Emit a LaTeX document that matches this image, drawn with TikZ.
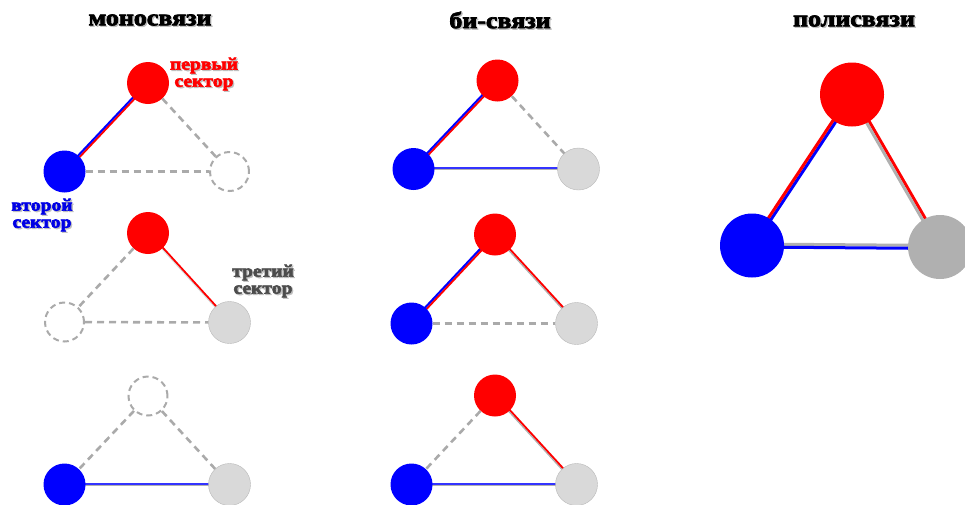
\documentclass[tikz,border=0pt]{standalone}
\usepackage{fontspec}
\setmainfont{Liberation Serif}
\newfontfamily\heavyfont{Liberation Serif}[BoldFeatures={FakeBold=3}]
\usetikzlibrary{calc,backgrounds}
\definecolor{lgray}{RGB}{217,217,217}
\definecolor{dgray}{RGB}{170,170,170}
\definecolor{mgray}{RGB}{176,176,176}
\definecolor{myblue}{RGB}{0,0,255}
\definecolor{myred}{RGB}{255,0,0}
\newcommand\dedge[6]{%
 \pgfmathsetmacro\oa{#4/2}\pgfmathsetmacro\ob{#6/2}%
 \draw[#3,line width=#4pt] ($(#1.center)!\oa pt!90:(#2.center)$) -- ($(#2.center)!\oa pt!-90:(#1.center)$);
 \draw[#5,line width=#6pt] ($(#1.center)!\ob pt!-90:(#2.center)$) -- ($(#2.center)!\ob pt!90:(#1.center)$);
}
% text with a soft grey drop shadow, as in the reference
\newcommand\shadtext[5]{% name, style, colour, position, text
 \node[#2,text=black!25] (#1s) at ($#4+(1.3,1.3)$) {#5};
 \node[#2,text=#3] (#1) at #4 {#5};
}
\begin{document}
\begin{tikzpicture}[x=1pt,y=-1pt,
  sec/.style={circle,minimum size=42pt,inner sep=0pt},
  bigsec/.style={circle,minimum size=64pt,inner sep=0pt},
  rsec/.style={fill=myred},
  bsec/.style={fill=myblue},
  gsec/.style={fill=lgray,draw=lgray!85!black,line width=0.4pt},
  esec/.style={circle,minimum size=39pt,inner sep=0pt,draw=dgray,fill=white,line width=2pt,dash pattern=on 6pt off 4pt},
  dashedge/.style={draw=dgray,line width=2.6pt,dash pattern=on 7pt off 5pt},
  head/.style={font=\heavyfont\bfseries\fontsize{23}{23}\selectfont,inner sep=0pt,xscale=1.13},
  lab/.style={font=\heavyfont\bfseries\fontsize{17.5}{17}\selectfont,align=center,inner sep=0pt,xscale=1.12}]
\useasboundingbox (0,0) rectangle (965,504);
% headings
\shadtext{h1}{head}{black}{(150,20)}{моносвязи}
\shadtext{h2}{head}{black}{(500,20)}{би-связи}
\shadtext{h3}{head}{black}{(854,21)}{полисвязи}
% labels
\shadtext{l1}{lab}{myred}{(204,74)}{первый\\сектор}
\shadtext{l2}{lab}{myblue!90!black}{(42,215)}{второй\\сектор}
\shadtext{l3}{lab}{black!70}{(263,281)}{третий\\сектор}
% column 1
\node[sec,rsec] (r11) at (148,83) {};
\node[sec,bsec] (b11) at (64.5,171.5) {};
\node[esec] (g11) at (229.5,171.5) {};
\node[sec,rsec] (r12) at (148,233) {};
\node[esec] (b12) at (64.5,322) {};
\node[sec,gsec] (g12) at (229.5,322.5) {};
\node[esec] (r13) at (148,396) {};
\node[sec,bsec] (b13) at (64.5,484.5) {};
\node[sec,gsec] (g13) at (229.5,484.5) {};
% column 2
\node[sec,rsec] (r21) at (497.5,80.5) {};
\node[sec,bsec] (b21) at (413.5,169) {};
\node[sec,gsec] (g21) at (578.5,169) {};
\node[sec,rsec] (r22) at (495,234.5) {};
\node[sec,bsec] (b22) at (411.5,323.5) {};
\node[sec,gsec] (g22) at (576.5,323.5) {};
\node[sec,rsec] (r23) at (495,395.5) {};
\node[sec,bsec] (b23) at (411.5,484.5) {};
\node[sec,gsec] (g23) at (576.5,484.5) {};
% column 3
\node[bigsec,rsec] (r3) at (852,94.5) {};
\node[bigsec,bsec] (b3) at (752,245.5) {};
\node[bigsec,fill=mgray] (g3) at (940,247) {};
% dashed connectors
\draw[dashedge] (r11) -- (g11);
\draw[dashedge] (b11) -- (g11);
\draw[dashedge] (r12) -- (b12);
\draw[dashedge] (b12) -- (g12);
\draw[dashedge] (r13) -- (b13);
\draw[dashedge] (r13) -- (g13);
\draw[dashedge] (r21) -- (g21);
\draw[dashedge] (b22) -- (g22);
\draw[dashedge] (r23) -- (b23);
% solid connectors
\begin{scope}[on background layer]
\dedge{r11}{b11}{myred}{2}{myblue}{2}
\dedge{r12}{g12}{myred}{2}{mgray!60}{0.8}
\dedge{b13}{g13}{myblue!80}{2}{mgray}{1.2}
\dedge{r21}{b21}{myred}{2}{myblue}{2}
\dedge{b21}{g21}{myblue!80}{2}{mgray}{1.2}
\dedge{r22}{b22}{myred}{2}{myblue}{2}
\dedge{r22}{g22}{myred}{2}{mgray}{1.2}
\dedge{r23}{g23}{myred}{2}{mgray}{1.2}
\dedge{b23}{g23}{myblue!80}{2}{mgray}{1.2}
\dedge{r3}{b3}{myblue}{3}{myred}{3}
\dedge{r3}{g3}{myred}{3}{mgray}{3}
\dedge{b3}{g3}{mgray}{3}{myblue}{3}
\end{scope}
\end{tikzpicture}
\end{document}
